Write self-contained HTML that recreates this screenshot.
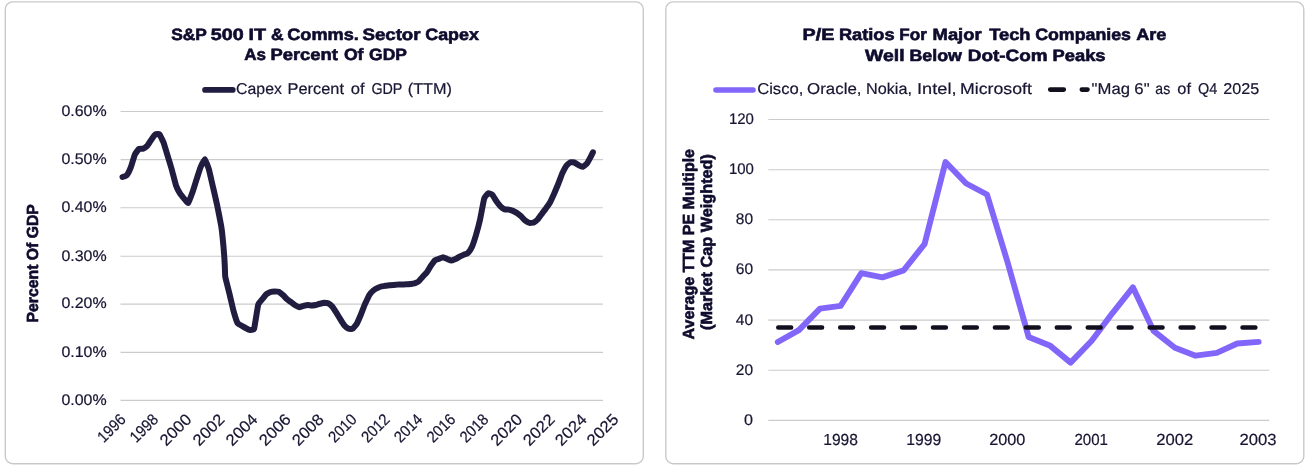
<!DOCTYPE html>
<html lang="en"><head><meta charset="utf-8"><title>Charts</title>
<style>html,body{margin:0;padding:0;background:#fff}svg{display:block;text-rendering:geometricPrecision}text{font-family:"Liberation Sans",sans-serif;fill:#171532;stroke:#171532;stroke-width:.2px}.b{font-weight:700;fill:#0e0b2d;stroke:#0e0b2d;stroke-width:.6px}</style></head><body>
<svg width="1308" height="471" viewBox="0 0 1308 471">
<rect width="1308" height="471" fill="#fff"/>
<rect x="5.3" y="1.9" width="638" height="461.9" rx="7.5" ry="7.5" fill="#fff" stroke="#c9c9cc" stroke-width="1.4"/>
<rect x="665.8" y="1.9" width="638" height="461.9" rx="7.5" ry="7.5" fill="#fff" stroke="#c9c9cc" stroke-width="1.4"/>
<line x1="120.5" x2="603" y1="111.5" y2="111.5" stroke="#cbcbcb" stroke-width="1.1"/>
<line x1="120.5" x2="603" y1="159.6" y2="159.6" stroke="#cbcbcb" stroke-width="1.1"/>
<line x1="120.5" x2="603" y1="207.8" y2="207.8" stroke="#cbcbcb" stroke-width="1.1"/>
<line x1="120.5" x2="603" y1="256.3" y2="256.3" stroke="#cbcbcb" stroke-width="1.1"/>
<line x1="120.5" x2="603" y1="304.1" y2="304.1" stroke="#cbcbcb" stroke-width="1.1"/>
<line x1="120.5" x2="603" y1="352.4" y2="352.4" stroke="#cbcbcb" stroke-width="1.1"/>
<line x1="120.5" x2="603" y1="400.4" y2="400.4" stroke="#cbcbcb" stroke-width="1.1"/>
<text x="61.4" y="115.7" font-size="15.4" textLength="45.2" lengthAdjust="spacingAndGlyphs">0.60%</text>
<text x="61.4" y="163.8" font-size="15.4" textLength="45.2" lengthAdjust="spacingAndGlyphs">0.50%</text>
<text x="61.4" y="212.1" font-size="15.4" textLength="45.2" lengthAdjust="spacingAndGlyphs">0.40%</text>
<text x="61.4" y="260.6" font-size="15.4" textLength="45.2" lengthAdjust="spacingAndGlyphs">0.30%</text>
<text x="61.4" y="308.4" font-size="15.4" textLength="45.2" lengthAdjust="spacingAndGlyphs">0.20%</text>
<text x="61.4" y="356.6" font-size="15.4" textLength="45.2" lengthAdjust="spacingAndGlyphs">0.10%</text>
<text x="61.4" y="404.6" font-size="15.4" textLength="45.2" lengthAdjust="spacingAndGlyphs">0.00%</text>
<text y="39.6" font-size="16.4" class="b"><tspan x="171.17" textLength="35.38" lengthAdjust="spacingAndGlyphs">S&amp;P</tspan> <tspan x="210.81" textLength="32.90" lengthAdjust="spacingAndGlyphs">500</tspan> <tspan x="248.52" textLength="17.49" lengthAdjust="spacingAndGlyphs">IT</tspan> <tspan x="270.90" textLength="12.57" lengthAdjust="spacingAndGlyphs">&amp;</tspan> <tspan x="287.27" textLength="71.56" lengthAdjust="spacingAndGlyphs">Comms.</tspan> <tspan x="362.43" textLength="58.13" lengthAdjust="spacingAndGlyphs">Sector</tspan> <tspan x="425.29" textLength="53.52" lengthAdjust="spacingAndGlyphs">Capex</tspan></text>
<text y="60.4" font-size="16.4" class="b"><tspan x="244.16" textLength="21.76" lengthAdjust="spacingAndGlyphs">As</tspan> <tspan x="270.41" textLength="67.44" lengthAdjust="spacingAndGlyphs">Percent</tspan> <tspan x="343.90" textLength="19.57" lengthAdjust="spacingAndGlyphs">Of</tspan> <tspan x="369.10" textLength="37.86" lengthAdjust="spacingAndGlyphs">GDP</tspan></text>
<line x1="205" x2="232.8" y1="89.9" y2="89.9" stroke="#211d40" stroke-width="5.6" stroke-linecap="round"/>
<text y="93.9" font-size="15.7"><tspan x="236.11" textLength="45.75" lengthAdjust="spacingAndGlyphs">Capex</tspan> <tspan x="287.59" textLength="56.46" lengthAdjust="spacingAndGlyphs">Percent</tspan> <tspan x="350.84" textLength="13.83" lengthAdjust="spacingAndGlyphs">of</tspan> <tspan x="371.39" textLength="30.75" lengthAdjust="spacingAndGlyphs">GDP</tspan> <tspan x="407.72" textLength="44.22" lengthAdjust="spacingAndGlyphs">(TTM)</tspan></text>
<text transform="translate(37.9 263.3) rotate(-90)" font-size="16.1" class="b" text-anchor="middle" textLength="118.3" lengthAdjust="spacingAndGlyphs">Percent Of GDP</text>
<text transform="translate(126.8 420.4) rotate(-45)" font-size="16" text-anchor="end" textLength="32.6" lengthAdjust="spacingAndGlyphs">1996</text>
<text transform="translate(159.3 420.4) rotate(-45)" font-size="16" text-anchor="end" textLength="32.6" lengthAdjust="spacingAndGlyphs">1998</text>
<text transform="translate(192.5 420.4) rotate(-45)" font-size="16" text-anchor="end" textLength="37.2" lengthAdjust="spacingAndGlyphs">2000</text>
<text transform="translate(225.6 420.4) rotate(-45)" font-size="16" text-anchor="end" textLength="37.2" lengthAdjust="spacingAndGlyphs">2002</text>
<text transform="translate(258.6 420.4) rotate(-45)" font-size="16" text-anchor="end" textLength="37.2" lengthAdjust="spacingAndGlyphs">2004</text>
<text transform="translate(291.9 420.4) rotate(-45)" font-size="16" text-anchor="end" textLength="37.2" lengthAdjust="spacingAndGlyphs">2006</text>
<text transform="translate(324.7 420.4) rotate(-45)" font-size="16" text-anchor="end" textLength="37.2" lengthAdjust="spacingAndGlyphs">2008</text>
<text transform="translate(357.7 420.4) rotate(-45)" font-size="16" text-anchor="end" textLength="32.6" lengthAdjust="spacingAndGlyphs">2010</text>
<text transform="translate(390.7 420.4) rotate(-45)" font-size="16" text-anchor="end" textLength="32.6" lengthAdjust="spacingAndGlyphs">2012</text>
<text transform="translate(423.6 420.4) rotate(-45)" font-size="16" text-anchor="end" textLength="32.6" lengthAdjust="spacingAndGlyphs">2014</text>
<text transform="translate(456.4 420.4) rotate(-45)" font-size="16" text-anchor="end" textLength="32.6" lengthAdjust="spacingAndGlyphs">2016</text>
<text transform="translate(489.4 420.4) rotate(-45)" font-size="16" text-anchor="end" textLength="32.6" lengthAdjust="spacingAndGlyphs">2018</text>
<text transform="translate(523.2 420.4) rotate(-45)" font-size="16" text-anchor="end" textLength="37.2" lengthAdjust="spacingAndGlyphs">2020</text>
<text transform="translate(555.7 420.4) rotate(-45)" font-size="16" text-anchor="end" textLength="37.2" lengthAdjust="spacingAndGlyphs">2022</text>
<text transform="translate(587.8 420.4) rotate(-45)" font-size="16" text-anchor="end" textLength="37.2" lengthAdjust="spacingAndGlyphs">2024</text>
<text transform="translate(619.5 420.4) rotate(-45)" font-size="16" text-anchor="end" textLength="37.2" lengthAdjust="spacingAndGlyphs">2025</text>
<path d="M122.5 177.0C122.8 176.9 126.2 176.0 126.7 175.4C127.2 174.8 130.3 168.7 130.8 167.4C131.3 166.1 134.4 155.6 134.9 154.5C135.4 153.4 138.5 149.2 139.0 148.9C139.5 148.6 142.6 148.9 143.1 148.7C143.6 148.5 146.7 146.4 147.2 145.9C147.7 145.4 150.8 140.4 151.3 139.7C151.8 139.0 154.9 134.7 155.4 134.4C155.9 134.1 159.0 133.9 159.5 134.4C160.0 134.9 163.2 141.5 163.7 142.8C164.1 144.1 167.3 154.7 167.8 156.3C168.3 157.9 171.4 168.2 171.9 170.0C172.4 171.8 175.5 184.1 176.0 185.5C176.5 186.9 179.6 192.9 180.1 193.7C180.6 194.5 183.7 198.1 184.2 198.7C184.7 199.3 187.8 203.4 188.3 203.0C188.8 202.6 191.9 193.9 192.4 192.5C192.9 191.1 196.0 181.1 196.5 179.6C197.0 178.1 200.1 168.4 200.6 167.2C201.1 166.0 204.3 159.1 204.8 159.2C205.2 159.3 208.4 167.6 208.9 169.3C209.4 171.0 212.5 184.9 213.0 187.0C213.5 189.1 216.6 202.7 217.1 205.0C217.6 207.3 220.9 224.2 221.2 226.0C221.5 227.8 222.2 233.3 222.3 234.5C222.4 235.7 223.4 245.5 223.5 246.8C223.6 248.2 224.2 255.8 224.3 257.0C224.4 258.2 224.7 264.8 224.8 266.0C224.9 267.2 225.0 275.4 225.3 277.0C225.6 278.6 228.9 291.5 229.4 293.5C229.9 295.5 233.0 309.1 233.5 310.9C234.0 312.7 237.1 322.3 237.6 323.2C238.1 324.1 241.2 325.4 241.7 325.7C242.2 326.0 245.4 327.8 245.8 328.1C246.3 328.4 249.5 330.0 250.0 330.0C250.5 330.0 253.6 330.2 254.1 328.7C254.6 327.2 257.7 306.5 258.2 304.7C258.7 302.9 261.8 299.8 262.3 299.2C262.8 298.6 265.9 294.6 266.4 294.2C266.9 293.8 270.0 292.2 270.5 292.0C271.0 291.8 274.1 291.5 274.6 291.5C275.1 291.5 278.2 291.6 278.7 291.8C279.2 292.0 282.3 294.5 282.8 294.9C283.3 295.3 286.5 298.8 286.9 299.2C287.4 299.6 290.6 301.8 291.1 302.2C291.6 302.6 294.7 305.0 295.2 305.3C295.7 305.6 298.8 307.2 299.3 307.2C299.8 307.2 302.9 306.0 303.4 305.9C303.9 305.8 307.0 305.1 307.5 305.1C308.0 305.1 311.1 305.5 311.6 305.5C312.1 305.5 315.2 305.1 315.7 305.0C316.2 304.9 319.3 303.9 319.8 303.8C320.3 303.7 323.4 302.8 323.9 302.8C324.4 302.8 327.6 303.0 328.1 303.2C328.5 303.4 331.7 305.9 332.2 306.5C332.7 307.1 335.8 311.8 336.3 312.6C336.8 313.4 339.9 318.6 340.4 319.4C340.9 320.2 344.0 325.0 344.5 325.6C345.0 326.2 348.1 328.5 348.6 328.7C349.1 328.9 352.2 329.0 352.7 328.7C353.2 328.4 356.3 324.6 356.8 323.7C357.3 322.8 360.4 315.7 360.9 314.5C361.4 313.3 364.5 305.1 365.0 304.0C365.5 302.9 368.7 296.2 369.1 295.4C369.6 294.6 372.8 290.9 373.3 290.5C373.8 290.1 376.9 288.2 377.4 288.0C377.9 287.8 381.0 286.5 381.5 286.4C382.0 286.3 385.1 285.9 385.6 285.8C386.1 285.7 389.2 285.4 389.7 285.3C390.2 285.2 393.3 284.9 393.8 284.9C394.3 284.9 397.4 284.6 397.9 284.6C398.4 284.6 401.5 284.5 402.0 284.5C402.5 284.5 405.6 284.3 406.1 284.3C406.6 284.3 409.8 284.1 410.2 284.0C410.7 283.9 413.9 283.5 414.4 283.4C414.9 283.2 418.0 281.9 418.5 281.5C419.0 281.1 422.1 277.3 422.6 276.8C423.1 276.3 426.2 273.3 426.7 272.6C427.2 271.9 430.3 266.5 430.8 265.8C431.3 265.1 434.4 260.7 434.9 260.3C435.4 259.9 438.5 259.0 439.0 258.8C439.5 258.6 442.6 257.2 443.1 257.2C443.6 257.2 446.7 258.8 447.2 259.0C447.7 259.2 450.9 260.6 451.4 260.6C451.8 260.6 455.0 259.2 455.5 259.0C456.0 258.8 459.1 256.9 459.6 256.6C460.1 256.3 463.2 254.9 463.7 254.7C464.2 254.5 467.3 253.7 467.8 253.2C468.3 252.7 471.4 248.1 471.9 247.0C472.4 245.9 475.5 236.7 476.0 235.0C476.5 233.3 479.6 221.5 480.1 219.3C480.6 217.1 483.7 200.2 484.2 198.6C484.7 197.0 487.8 193.5 488.3 193.3C488.8 193.1 492.0 194.3 492.4 194.8C492.9 195.3 496.1 200.9 496.6 201.6C497.1 202.3 500.2 206.1 500.7 206.6C501.2 207.1 504.3 209.2 504.8 209.4C505.3 209.6 508.4 209.5 508.9 209.6C509.4 209.7 512.5 210.7 513.0 210.9C513.5 211.1 516.6 212.8 517.1 213.1C517.6 213.4 520.7 215.9 521.2 216.4C521.7 216.9 524.8 220.3 525.3 220.7C525.8 221.1 528.9 222.8 529.4 222.9C529.9 223.0 533.1 222.8 533.5 222.6C534.0 222.4 537.2 220.0 537.7 219.5C538.2 219.0 541.3 214.6 541.8 213.9C542.3 213.2 545.4 209.1 545.9 208.4C546.4 207.7 549.5 203.4 550.0 202.5C550.5 201.6 553.6 194.8 554.1 193.7C554.6 192.6 557.7 185.2 558.2 184.0C558.7 182.8 561.8 174.4 562.3 173.3C562.8 172.2 565.9 166.5 566.4 165.8C566.9 165.1 570.0 162.4 570.5 162.2C571.0 162.0 574.2 162.4 574.6 162.6C575.1 162.8 578.3 165.0 578.8 165.3C579.3 165.6 582.4 166.9 582.9 166.8C583.4 166.7 586.5 164.0 587.0 163.4C587.5 162.8 590.7 156.7 591.1 156.0C591.4 155.3 592.8 152.5 592.9 152.3" fill="none" stroke="#211d40" stroke-width="6" stroke-linecap="round" stroke-linejoin="round"/>
<line x1="768.3" x2="1269.3" y1="119.5" y2="119.5" stroke="#cbcbcb" stroke-width="1.1"/>
<line x1="768.3" x2="1269.3" y1="169.7" y2="169.7" stroke="#cbcbcb" stroke-width="1.1"/>
<line x1="768.3" x2="1269.3" y1="219.8" y2="219.8" stroke="#cbcbcb" stroke-width="1.1"/>
<line x1="768.3" x2="1269.3" y1="269.9" y2="269.9" stroke="#cbcbcb" stroke-width="1.1"/>
<line x1="768.3" x2="1269.3" y1="320.1" y2="320.1" stroke="#cbcbcb" stroke-width="1.1"/>
<line x1="768.3" x2="1269.3" y1="370.2" y2="370.2" stroke="#cbcbcb" stroke-width="1.1"/>
<line x1="768.3" x2="1269.3" y1="420.4" y2="420.4" stroke="#cbcbcb" stroke-width="1.1"/>
<text x="753.9" y="124.0" font-size="15.4" text-anchor="end" textLength="25.0" lengthAdjust="spacingAndGlyphs">120</text>
<text x="753.9" y="174.2" font-size="15.4" text-anchor="end" textLength="25.0" lengthAdjust="spacingAndGlyphs">100</text>
<text x="753.1" y="224.3" font-size="15.4" text-anchor="end" textLength="17.3" lengthAdjust="spacingAndGlyphs">80</text>
<text x="753.1" y="274.4" font-size="15.4" text-anchor="end" textLength="17.3" lengthAdjust="spacingAndGlyphs">60</text>
<text x="753.1" y="324.6" font-size="15.4" text-anchor="end" textLength="17.3" lengthAdjust="spacingAndGlyphs">40</text>
<text x="753.1" y="374.8" font-size="15.4" text-anchor="end" textLength="17.3" lengthAdjust="spacingAndGlyphs">20</text>
<text x="753.1" y="424.9" font-size="15.4" text-anchor="end" textLength="9.0" lengthAdjust="spacingAndGlyphs">0</text>
<text y="39.6" font-size="16.4" class="b"><tspan x="802.52" textLength="31.81" lengthAdjust="spacingAndGlyphs">P/E</tspan> <tspan x="838.92" textLength="55.64" lengthAdjust="spacingAndGlyphs">Ratios</tspan> <tspan x="899.29" textLength="27.55" lengthAdjust="spacingAndGlyphs">For</tspan> <tspan x="932.61" textLength="48.95" lengthAdjust="spacingAndGlyphs">Major</tspan> <tspan x="989.22" textLength="41.29" lengthAdjust="spacingAndGlyphs">Tech</tspan> <tspan x="1035.19" textLength="95.75" lengthAdjust="spacingAndGlyphs">Companies</tspan> <tspan x="1136.24" textLength="30.23" lengthAdjust="spacingAndGlyphs">Are</tspan></text>
<text y="60.5" font-size="16.4" class="b"><tspan x="865.10" textLength="39.52" lengthAdjust="spacingAndGlyphs">Well</tspan> <tspan x="909.44" textLength="52.42" lengthAdjust="spacingAndGlyphs">Below</tspan> <tspan x="967.87" textLength="79.75" lengthAdjust="spacingAndGlyphs">Dot-Com</tspan> <tspan x="1052.61" textLength="52.95" lengthAdjust="spacingAndGlyphs">Peaks</tspan></text>
<line x1="716" x2="753" y1="90" y2="90" stroke="#8266fa" stroke-width="5.6" stroke-linecap="round"/>
<text y="93.9" font-size="15.7"><tspan x="757.17" textLength="46.19" lengthAdjust="spacingAndGlyphs">Cisco,</tspan> <tspan x="807.14" textLength="54.34" lengthAdjust="spacingAndGlyphs">Oracle,</tspan> <tspan x="866.00" textLength="45.92" lengthAdjust="spacingAndGlyphs">Nokia,</tspan> <tspan x="917.06" textLength="39.43" lengthAdjust="spacingAndGlyphs">Intel,</tspan> <tspan x="960.08" textLength="71.77" lengthAdjust="spacingAndGlyphs">Microsoft</tspan></text>
<path d="M1050.2 89.6H1063.8M1081.8 89.6H1087.5" fill="none" stroke="#12101f" stroke-width="4.6" stroke-linecap="round"/>
<text y="93.9" font-size="15.7"><tspan x="1091.63" textLength="38.39" lengthAdjust="spacingAndGlyphs">&quot;Mag</tspan> <tspan x="1134.36" textLength="15.31" lengthAdjust="spacingAndGlyphs">6&quot;</tspan> <tspan x="1155.34" textLength="14.85" lengthAdjust="spacingAndGlyphs">as</tspan> <tspan x="1177.35" textLength="13.62" lengthAdjust="spacingAndGlyphs">of</tspan> <tspan x="1197.95" textLength="19.23" lengthAdjust="spacingAndGlyphs">Q4</tspan> <tspan x="1223.19" textLength="35.97" lengthAdjust="spacingAndGlyphs">2025</tspan></text>
<text transform="translate(694.1 244.2) rotate(-90)" font-size="16.1" class="b" text-anchor="middle" textLength="190.4" lengthAdjust="spacingAndGlyphs">Average TTM PE Multiple</text>
<text transform="translate(712.0 242) rotate(-90)" font-size="16.1" class="b" text-anchor="middle" textLength="175.9" lengthAdjust="spacingAndGlyphs">(Market Cap Weighted)</text>
<text x="840.6" y="445.3" font-size="16.0" text-anchor="middle" textLength="34.7" lengthAdjust="spacingAndGlyphs">1998</text>
<text x="923.7" y="445.3" font-size="16.0" text-anchor="middle" textLength="35.0" lengthAdjust="spacingAndGlyphs">1999</text>
<text x="1007.3" y="445.3" font-size="16.0" text-anchor="middle" textLength="36.1" lengthAdjust="spacingAndGlyphs">2000</text>
<text x="1091.2" y="445.3" font-size="16.0" text-anchor="middle" textLength="33.5" lengthAdjust="spacingAndGlyphs">2001</text>
<text x="1174.8" y="445.3" font-size="16.0" text-anchor="middle" textLength="37.0" lengthAdjust="spacingAndGlyphs">2002</text>
<text x="1258.0" y="445.3" font-size="16.0" text-anchor="middle" textLength="37.0" lengthAdjust="spacingAndGlyphs">2003</text>
<path d="M777.8 342.0L798.9 330.1L820.0 308.6L840.6 305.9L861.3 273.2L882.4 277.4L903.6 270.4L924.5 244.2L945.5 162.0L966.2 183.5L987.0 194.5L1007.5 262.0L1028.6 336.9L1049.7 345.4L1070.6 362.6L1091.7 340.8L1112.3 313.3L1132.9 287.3L1153.6 330.9L1174.9 347.7L1195.6 355.7L1216.7 352.9L1237.3 343.5L1258.6 341.9" fill="none" stroke="#8266fa" stroke-width="5.9" stroke-linecap="round" stroke-linejoin="round"/>
<line x1="778.3" x2="1256" y1="327.5" y2="327.5" stroke="#12101f" stroke-width="4.6" stroke-linecap="round" stroke-dasharray="12.8 18.15"/>
</svg></body></html>
